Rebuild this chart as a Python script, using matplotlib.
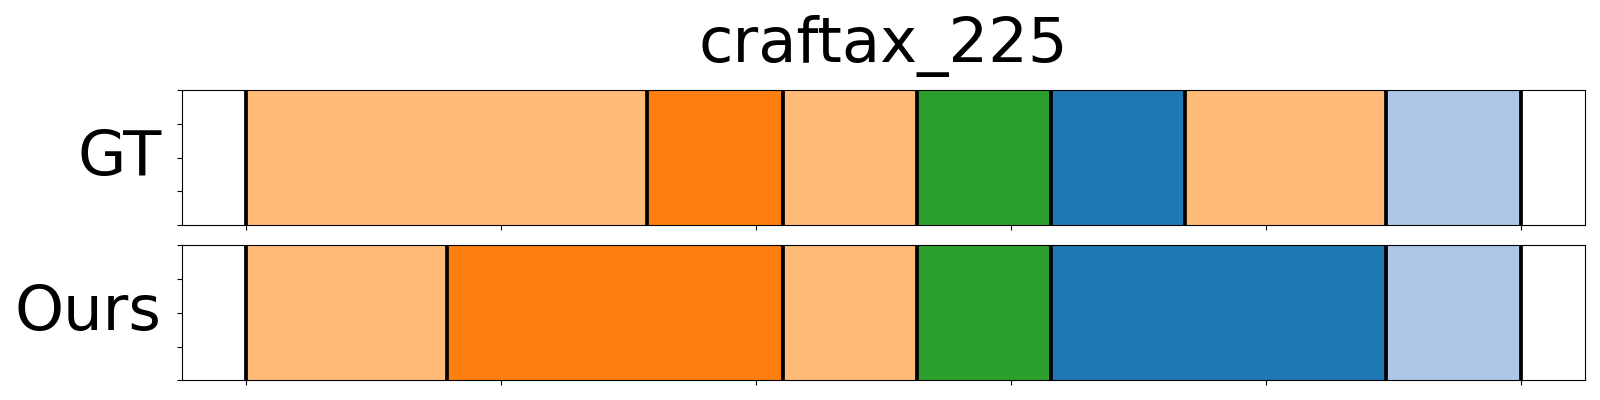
import matplotlib
matplotlib.use("Agg")
import matplotlib.pyplot as plt

title = "craftax_225"
row_labels = ["GT", "Ours"]

# segment boundaries (frame index) and class ids per segment
gt_bounds = [0, 315, 421, 526, 631, 736, 894, 1000]
gt_classes = [3, 2, 3, 4, 0, 3, 1]
ours_bounds = [0, 158, 421, 526, 631, 894, 1000]
ours_classes = [3, 2, 3, 4, 0, 1]

x_ticks = [0, 200, 400, 600, 800, 1000]
y_ticks = [0, 0.25, 0.5, 0.75, 1.0]

cmap = plt.get_cmap("tab20")

fig = plt.figure(figsize=(16, 4), dpi=100)
ax1 = fig.add_axes([0.1136, 0.4375, 0.9908 - 0.1136, 0.774 - 0.4375])
ax2 = fig.add_axes([0.1136, 0.049, 0.9908 - 0.1136, 0.387 - 0.049])

for ax, bounds, classes, lab in [(ax1, gt_bounds, gt_classes, row_labels[0]),
                                  (ax2, ours_bounds, ours_classes, row_labels[1])]:
    for i, c in enumerate(classes):
        ax.axvspan(bounds[i], bounds[i + 1], ymin=0, ymax=1, color=cmap(c), lw=0.5)
    for b in bounds:
        ax.axvline(b, color="black", lw=2.7)
    ax.set_xlim(-50, 1050)
    ax.set_ylim(0, 1)
    ax.set_xticks(x_ticks)
    ax.set_yticks(y_ticks)
    ax.set_xticklabels([])
    ax.set_yticklabels([])
    ax.set_ylabel(lab, fontsize=45, rotation=0, ha="right", va="center")
    ax.yaxis.set_label_coords(-0.0145, 0.5)

fig.text(0.552, 1 - 62 / 400, title, fontsize=45, ha="center", va="baseline")

fig.savefig("out.png", dpi=100)
